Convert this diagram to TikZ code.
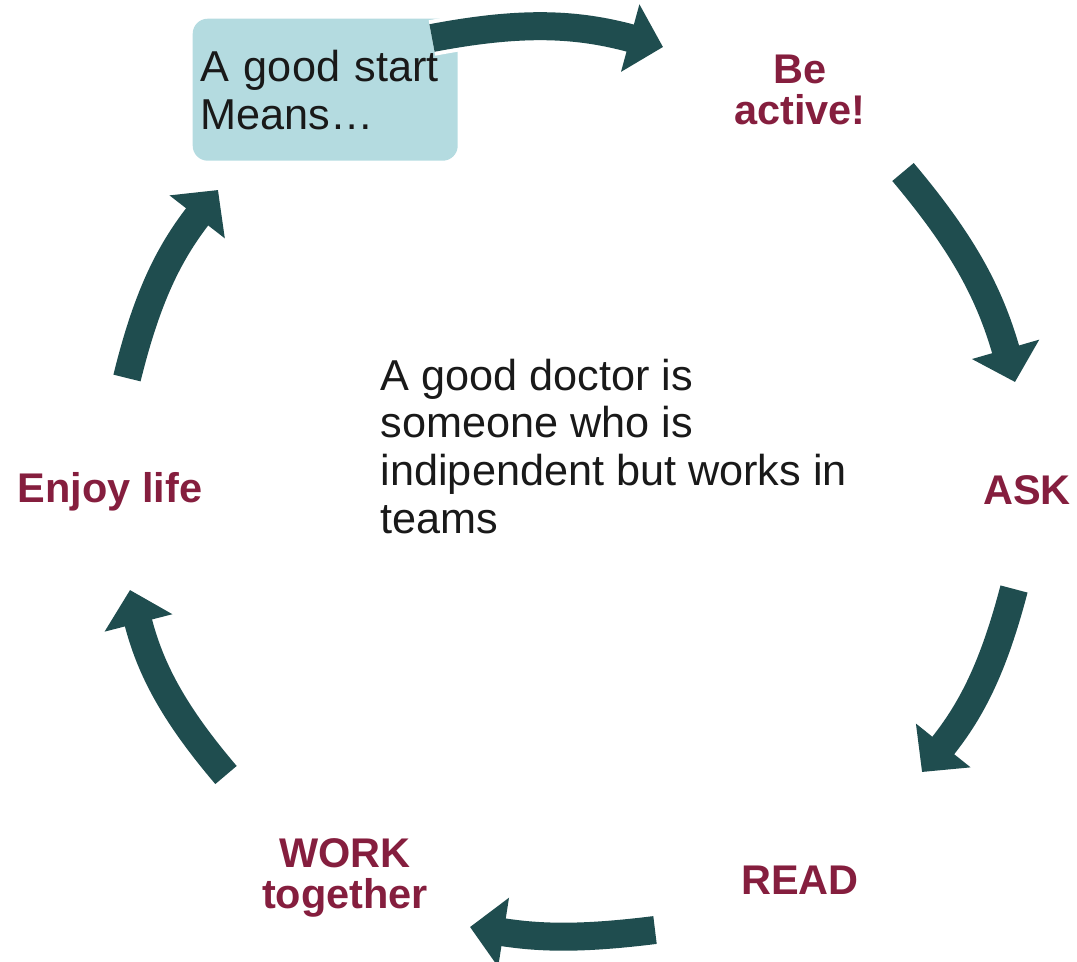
\documentclass[tikz,border=0pt]{standalone}
\usepackage{fontspec}
\setmainfont{Liberation Sans}
\usetikzlibrary{arrows.meta}
\definecolor{cycleteal}{RGB}{31,77,79}
\definecolor{labelred}{RGB}{133,30,62}
\definecolor{boxblue}{RGB}{180,219,224}
\begin{document}
\begin{tikzpicture}[
  lbl/.style={text=labelred, font=\fontsize{11.8}{11.6}\selectfont\bfseries, align=center, inner sep=0pt},
  txt/.style={text=black!90, font=\fontsize{12.3}{13.6}\selectfont, align=left, inner sep=0pt},
  cyc/.style={draw=cycleteal, line width=0.28cm, -{Triangle[width=0.68cm,length=0.34cm]}},
]
  \useasboundingbox (0,0) rectangle (10.77,-9.61);

  \node[txt, fill=boxblue, rounded corners=0.15cm, text width=2.49cm, inner xsep=0.08cm,
        minimum height=1.42cm, anchor=north west] (start) at (1.92,-0.18) {A good start\\Means\dots};
  \node[lbl] (active) at (8.00,-0.90) {Be\\active!};
  \node[lbl] (ask) at (10.27,-4.90) {ASK};
  \node[lbl] (read) at (8.00,-8.80) {READ};
  \node[lbl] (work) at (3.45,-8.78) {WORK\\together};
  \node[lbl] (enjoy) at (1.10,-4.92) {Enjoy life};
  \node[txt, anchor=north west] (doctor) at (3.80,-3.58)
    {A good doctor is\\someone who is\\indipendent but works in\\teams};

  % bouts des fleches
  \coordinate (t1) at (4.32,-0.38);  \coordinate (h1) at (6.63,-0.47);
  \coordinate (t2) at (9.03,-1.72);  \coordinate (h2) at (10.15,-3.82);
  \coordinate (t3) at (10.14,-5.89); \coordinate (h3) at (9.22,-7.72);
  \coordinate (t4) at (6.55,-9.30);  \coordinate (h4) at (4.70,-9.27);
  \coordinate (t5) at (2.26,-7.75);  \coordinate (h5) at (1.30,-5.90);
  \coordinate (t6) at (1.27,-3.78);  \coordinate (h6) at (2.18,-1.90);

  \draw[cyc, preaction={draw=white, line width=0.36cm, -}] (t1) to[bend left=13] (h1);
  \draw[cyc] (t2) to[bend left=12] (h2);
  \draw[cyc] (t3) to[bend left=12] (h3);
  \draw[cyc] (t4) to[bend left=8] (h4);
  \draw[cyc] (t5) to[bend left=13] (h5);
  \draw[cyc] (t6) to[bend left=12] (h6);
\end{tikzpicture}
\end{document}
